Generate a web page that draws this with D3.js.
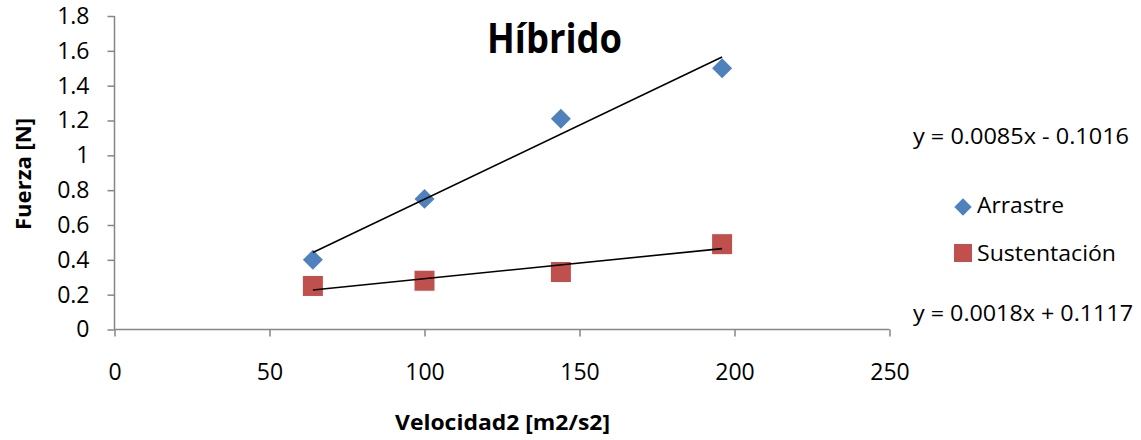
<!DOCTYPE html>
<html>
<head>
<meta charset="utf-8">
<script src="https://cdn.jsdelivr.net/npm/d3@7"></script>
<style>
  html, body { margin: 0; padding: 0; background: #fff; }
  svg { display: block; }
  text { font-family: "Open Sans", sans-serif; fill: #000; }
</style>
</head>
<body>
<svg id="chart" width="1141" height="440"></svg>
<script>
// ---- data ----
const xValues = [64, 100, 144, 196];
const arrastre = [0.40, 0.75, 1.21, 1.50];
const sustentacion = [0.25, 0.28, 0.33, 0.49];
const seriesNames = ["Arrastre", "Sustentación"];
const trendSlopes = [0.0085, 0.0018];
const trendIntercepts = [-0.1016, 0.1117];
const trendLabels = ["y = 0.0085x - 0.1016", "y = 0.0018x + 0.1117"];
const xTicks = [0, 50, 100, 150, 200, 250];
const yTicks = [0, 0.2, 0.4, 0.6, 0.8, 1, 1.2, 1.4, 1.6, 1.8];
const title = "Híbrido";
const xTitle = "Velocidad2 [m2/s2]";
const yTitle = "Fuerza [N]";
const colors = ["#4F81BD", "#C0504D"];

const svg = d3.select("#chart");
const x = d3.scaleLinear().domain([0, 250]).range([114.5, 889.5]);
const y = d3.scaleLinear().domain([0, 1.8]).range([329.5, 16]);
const fs = 22;
const tickFs = 23;

// axes
const axisColor = "#868686";
const yAxis = svg.append("g").attr("transform", `translate(${x(0)},0)`)
  .call(d3.axisLeft(y).tickValues(yTicks).tickSize(7).tickPadding(18)
    .tickFormat(d => String(+d.toFixed(1))));
const xAxis = svg.append("g").attr("transform", `translate(0,${y(0)})`)
  .call(d3.axisBottom(x).tickValues(xTicks).tickSize(7).tickPadding(27));
[xAxis, yAxis].forEach(g => {
  g.selectAll("path.domain").attr("stroke", axisColor).attr("stroke-width", 1.5);
  g.selectAll(".tick line").attr("stroke", axisColor).attr("stroke-width", 1.5);
  g.selectAll(".tick text").attr("font-family", "'Open Sans', sans-serif").attr("font-size", tickFs).attr("fill", "#000");
});
xAxis.select("path.domain").attr("d", `M${x(0)},0H${x(250)}`);
yAxis.select("path.domain").attr("d", `M0,${y(0)}V${y(1.8)}`);

// markers
svg.append("g").selectAll("path").data(xValues.map((v, i) => [v, arrastre[i]]))
  .join("path")
  .attr("d", d3.symbol().type(d3.symbolSquare).size(200)())
  .attr("transform", d => `translate(${x(d[0])},${y(d[1])}) rotate(45)`)
  .attr("fill", colors[0]);
svg.append("g").selectAll("rect").data(xValues.map((v, i) => [v, sustentacion[i]]))
  .join("rect")
  .attr("x", d => x(d[0]) - 10).attr("y", d => y(d[1]) - 10)
  .attr("width", 20).attr("height", 20)
  .attr("fill", colors[1]);

// trendlines
const xMin = d3.min(xValues), xMax = d3.max(xValues);
trendSlopes.forEach((m, i) => {
  const b = trendIntercepts[i];
  svg.append("line")
    .attr("x1", x(xMin)).attr("y1", y(m * xMin + b))
    .attr("x2", x(xMax)).attr("y2", y(m * xMax + b))
    .attr("stroke", "#000").attr("stroke-width", 1.6);
});

// title
svg.append("text").attr("x", 487).attr("y", 53)
  .attr("font-weight", "bold").attr("font-size", 42)
  .attr("textLength", 135).attr("lengthAdjust", "spacingAndGlyphs").text(title);

// axis titles
svg.append("text").attr("x", 395).attr("y", 430)
  .attr("font-weight", "bold").attr("font-size", 22)
  .attr("textLength", 215).attr("lengthAdjust", "spacingAndGlyphs").text(xTitle);
svg.append("text").attr("transform", "translate(31,230) rotate(-90)")
  .attr("font-weight", "bold").attr("font-size", 22)
  .attr("textLength", 112).attr("lengthAdjust", "spacingAndGlyphs").text(yTitle);

// equations
svg.append("text").attr("x", 913).attr("y", 144).attr("font-size", fs)
  .attr("textLength", 216).attr("lengthAdjust", "spacingAndGlyphs").text(trendLabels[0]);
svg.append("text").attr("x", 913).attr("y", 321).attr("font-size", fs)
  .attr("textLength", 220).attr("lengthAdjust", "spacingAndGlyphs").text(trendLabels[1]);

// legend
const lg = svg.append("g");
lg.append("path").attr("d", d3.symbol().type(d3.symbolSquare).size(150)())
  .attr("transform", "translate(963,207) rotate(45)").attr("fill", colors[0]);
lg.append("rect").attr("x", 954).attr("y", 244).attr("width", 18).attr("height", 18).attr("fill", colors[1]);
lg.append("text").attr("x", 977).attr("y", 213).attr("font-size", fs)
  .attr("textLength", 87).attr("lengthAdjust", "spacingAndGlyphs").text(seriesNames[0]);
lg.append("text").attr("x", 977).attr("y", 261).attr("font-size", fs)
  .attr("textLength", 139).attr("lengthAdjust", "spacingAndGlyphs").text(seriesNames[1]);
</script>
</body>
</html>
